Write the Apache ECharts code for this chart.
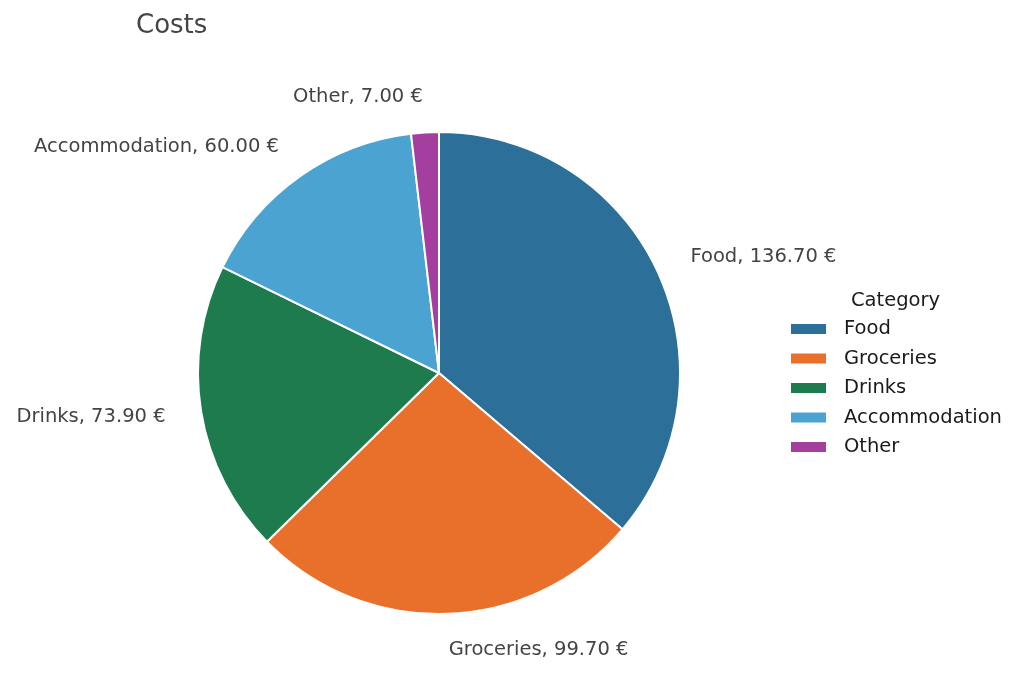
<!DOCTYPE html>
<html lang="en">
  <head>
    <meta charset="UTF-8" />
    <title>Costs</title>
    <style>
      * {
        margin: 0;
        padding: 0;
      }
      body {
        background: #fff;
      }
    </style>
  </head>
  <body>
    <div id="main" style="width: 1024px; height: 690px;"></div>
    <script src="https://cdn.jsdelivr.net/npm/echarts@6/dist/echarts.min.js"></script>
    <script>
      // data
      const categories = ["Food", "Groceries", "Drinks", "Accommodation", "Other"];
      const costs = [136.7, 99.7, 73.9, 60.0, 7.0];
      const colors = ["#2c6f98", "#e8702a", "#1e7b4e", "#4ba3d2", "#a43fa0"];

      const font = "DejaVu Sans";

      function draw() {
        let myEcharts = echarts.init(document.getElementById("main"));
        let option = {
          animation: false,
          color: colors,
          title: [
            {
              text: "Costs",
              left: 136,
              top: 13,
              padding: 0,
              textStyle: { fontFamily: font, fontSize: 26, fontWeight: "normal", color: "#444" },
            },
            {
              text: "Category",
              left: 851,
              top: 291,
              padding: 0,
              textStyle: { fontFamily: font, fontSize: 19.5, fontWeight: "normal", color: "#1a1a1a" },
            },
          ],
          legend: {
            orient: "vertical",
            left: 789,
            top: 319,
            padding: 0,
            icon: "rect",
            itemWidth: 37,
            itemHeight: 12,
            itemGap: 9.5,
            textStyle: { fontFamily: font, fontSize: 19.5, color: "#1a1a1a", lineHeight: 20, padding: [0, 0, 0, 12] },
            data: categories,
          },
          series: [
            {
              name: "Costs",
              type: "pie",
              center: [439, 373],
              radius: 241,
              startAngle: 90,
              clockwise: true,
              avoidLabelOverlap: false,
              itemStyle: { borderColor: "#fff", borderWidth: 2 },
              label: {
                show: true,
                position: "outside",
                distanceToLabelLine: 0,
                fontFamily: font,
                fontSize: 19.5,
                color: "#444",
                formatter: (p) => p.name + ", " + p.value.toFixed(2) + " €",
              },
              labelLine: { show: false, length: 36, length2: 0 },
              emphasis: { disabled: true },
              data: categories.map((c, i) => ({ name: c, value: costs[i] })),
            },
          ],
        };
        myEcharts.setOption(option);
      }
      draw();
    </script>
  </body>
</html>
